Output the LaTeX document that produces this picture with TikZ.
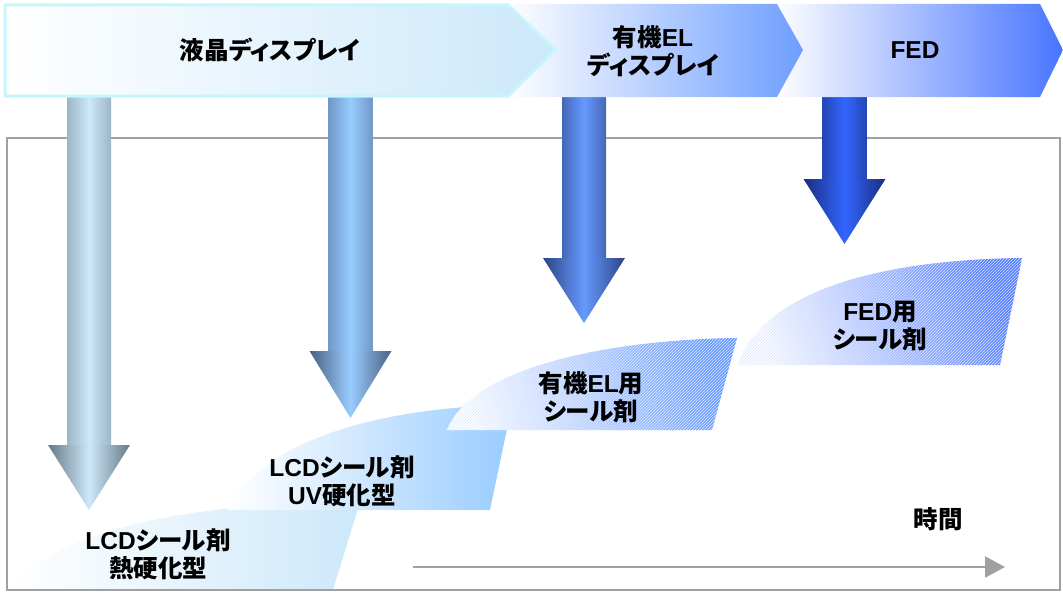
\documentclass[tikz,border=0pt]{standalone}
\usepackage{fontspec}
\setmainfont{Liberation Sans}
\newfontfamily\jpfont[RawFeature=+palt]{Noto Sans CJK JP}
\newcommand\jtxt[1]{{\jpfont #1}}
\usetikzlibrary{arrows.meta,patterns}
\definecolor{lcdlt}{HTML}{CCE8FA}
\definecolor{lcdedge}{HTML}{C4F6FB}
\definecolor{uvblue}{HTML}{99CCFF}
\definecolor{elblue}{HTML}{6699FF}
\definecolor{fedblue}{HTML}{3366FF}
\definecolor{framegray}{HTML}{A0A0A0}
\definecolor{aOneEdge}{HTML}{9DB6C6}
\definecolor{aOneHead}{HTML}{667A86}
\definecolor{aTwoEdge}{HTML}{7098C8}
\definecolor{aTwoHead}{HTML}{4A6082}
\definecolor{aThreeEdge}{HTML}{4468B8}
\definecolor{aThreeHead}{HTML}{2C4484}
\definecolor{aFourEdge}{HTML}{2446B4}
\definecolor{aFourHead}{HTML}{1A2C80}
\newcommand\bigdownarr[6]{%
  \shade[left color=#4, right color=#4, middle color=#5] (#1-22,95) rectangle (#1+22,#2);
  \shade[left color=#6, right color=#6, middle color=#5] (#1-41,#2) -- (#1+41,#2) -- (#1,#3) -- cycle;
}
\begin{document}
\begin{tikzpicture}[x=1pt,y=-1pt,
  every node/.style={font=\bfseries\fontsize{24.5}{28}\selectfont, align=center, inner sep=0pt},
  hatchit/.style={postaction={pattern=north east lines, pattern color=#1}},
  timeline/.style={draw=framegray, line width=2.5pt, -{Triangle[length=20pt,width=21pt]}},
  framebox/.style={draw=framegray, line width=2.5pt}
]
\useasboundingbox (0,0) rectangle (1063,594);
% lower wedge shapes
\shade[left color=white, right color=lcdlt] (8,590) .. controls (60,530) and (180,503) .. (360,502) -- (333,590) -- cycle;
\shade[left color=white, right color=uvblue] (227,510) .. controls (262,440) and (380,407) .. (512,405) -- (490,510) -- cycle;
\path[left color=white, right color=elblue, shading angle=105, hatchit=elblue!22!white] (447,430) .. controls (470,370) and (600,340) .. (737,338) -- (712,430) -- cycle;
\path[left color=white, right color=fedblue!85!white, shading angle=110, hatchit=fedblue!18!white] (737,365) .. controls (765,290) and (880,260) .. (1022,258) -- (1000,365) -- cycle;
% frame
\draw[framebox] (7,138) rectangle (1060,590);
% down arrows
\bigdownarr{89}{445}{510}{aOneEdge}{lcdlt}{aOneHead}
\bigdownarr{350.5}{351}{418}{aTwoEdge}{uvblue}{aTwoHead}
\bigdownarr{584}{258}{323}{aThreeEdge}{elblue}{aThreeHead}
\bigdownarr{844.5}{179}{244}{aFourEdge}{fedblue}{aFourHead}
% banners
\shade[left color=white, right color=fedblue!90!white] (775,4) -- (1040,4) -- (1063,50) -- (1040,97) -- (775,97) -- cycle;
\shade[left color=white, right color=elblue!95!white] (505,4) -- (777,4) -- (803,50) -- (777,97) -- (505,97) -- cycle;
\path[left color=white, right color=lcdlt, draw=lcdedge, line width=3pt] (5,5) -- (508,5) -- (555,50) -- (508,96) -- (5,96) -- cycle;
% texts
\node (b1) at (270,50) {\jtxt{液晶ディスプレイ}};
\node (b2) at (653,51) {\jtxt{有機}EL\\\jtxt{ディスプレイ}};
\node (b3) at (915,50) {FED};
\node (s1) at (158,554) {LCD\jtxt{シール剤}\\\jtxt{熱硬化型}};
\node (s2) at (342,481) {LCD\jtxt{シール剤}\\UV\jtxt{硬化型}};
\node (s3) at (591,397) {\jtxt{有機}EL\jtxt{用}\\\jtxt{シール剤}};
\node (s4) at (880,326) {FED\jtxt{用}\\\jtxt{シール剤}};
\node (tm) at (938,519) {\jtxt{時間}};
\coordinate (t0) at (413,567);
\coordinate (t1) at (1005,567);
\draw[timeline] (t0) -- (t1);
\end{tikzpicture}
\end{document}
